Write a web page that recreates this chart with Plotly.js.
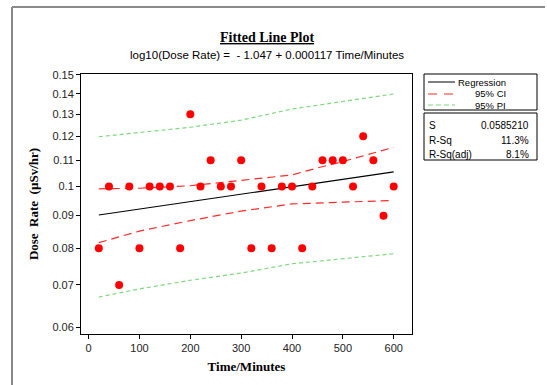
<!DOCTYPE html>
<html>
<head>
<meta charset="utf-8">
<script src="https://cdn.plot.ly/plotly-3.0.1.min.js"></script>
<style>
html,body{margin:0;padding:0;background:#fff;}
#chart{width:547px;height:385px;}
</style>
</head>
<body>
<div id="chart"></div>
<script>
// ---- data ----
const timeMinutes = [20,40,60,80,100,120,140,160,180,200,220,240,260,280,300,320,340,360,380,400,420,440,460,480,500,520,540,560,580,600];
const doseRate    = [0.08,0.10,0.07,0.10,0.08,0.10,0.10,0.10,0.08,0.13,0.10,0.11,0.10,0.10,0.11,0.08,0.10,0.08,0.10,0.10,0.08,0.10,0.11,0.11,0.11,0.10,0.12,0.11,0.09,0.10];

const fitTime    = [20,100,200,300,400,450,500,600];
const regression = [0.0902,0.0922,0.0947,0.0974,0.1001,0.1015,0.1029,0.1055];
const ciUpper    = [0.0992,0.0994,0.1003,0.1022,0.1043,0.1070,0.1095,0.1153];
const ciLower    = [0.0816,0.0851,0.0884,0.0915,0.0939,0.0943,0.0945,0.0951];
const piUpper    = [0.1198,0.1217,0.1240,0.1272,0.1325,0.1343,0.1361,0.1399];
const piLower    = [0.0670,0.0690,0.0712,0.0731,0.0756,0.0763,0.0770,0.0784];

const xTicks  = [0,100,200,300,400,500,600];
const yTicks  = [0.06,0.07,0.08,0.09,0.10,0.11,0.12,0.13,0.14,0.15];
const yLabels = ["0.06","0.07","0.08","0.09","0.1","0.11","0.12","0.13","0.14","0.15"];

const titleText    = "<b><u>Fitted Line Plot</u></b>";
const subtitleText = "log10(Dose Rate) =  - 1.047 + 0.000117 Time/Minutes";
const legendLabels = ["Regression","95% CI","95% PI"];
const statNames  = ["S","R-Sq","R-Sq(adj)"];
const statValues = ["0.0585210","11.3%","8.1%"];

// ---- layout helpers (pixel -> paper) ----
const L = 81, R = 412, T = 74, B = 334, W = 547, H = 385;
const px = x => (x - L) / (R - L);
const py = y => (B - y) / (B - T);

const sans = "Liberation Sans, Arial, sans-serif";
const serif = "Liberation Serif, Times New Roman, serif";

const traces = [
  {x: fitTime, y: piUpper, mode:'lines', line:{color:'#7fd87f', width:1.2, dash:'4px,3px'}, hoverinfo:'skip'},
  {x: fitTime, y: piLower, mode:'lines', line:{color:'#7fd87f', width:1.2, dash:'4px,3px'}, hoverinfo:'skip'},
  {x: fitTime, y: ciUpper, mode:'lines', line:{color:'#ff2a2a', width:1.2, dash:'8px,5px'}, hoverinfo:'skip'},
  {x: fitTime, y: ciLower, mode:'lines', line:{color:'#ff2a2a', width:1.2, dash:'8px,5px'}, hoverinfo:'skip'},
  {x: fitTime, y: regression, mode:'lines', line:{color:'#000', width:1.2}, hoverinfo:'skip'},
  {x: timeMinutes, y: doseRate, mode:'markers', marker:{color:'#ff0000', size:8}}
];

const annotations = [
  {text: titleText, xref:'paper', yref:'paper', x: px(267), y: py(37), xanchor:'center', yanchor:'middle', showarrow:false, font:{family:serif, size:14, color:'#000'}},
  {text: subtitleText, xref:'paper', yref:'paper', x: px(267), y: py(54.5), xanchor:'center', yanchor:'middle', showarrow:false, font:{family:sans, size:11.5, color:'#000'}},
];
// legend texts
const legY = [82, 94, 105];
legendLabels.forEach((t,i) => annotations.push({text:t, xref:'paper', yref:'paper', x:px(508), y:py(legY[i]), xanchor:'right', yanchor:'middle', showarrow:false, font:{family:sans, size:9.5, color:'#000'}}));
// stats texts
const statY = [126, 140, 154];
statNames.forEach((t,i) => {
  annotations.push({text:t, xref:'paper', yref:'paper', x:px(427), y:py(statY[i]), xanchor:'left', yanchor:'middle', showarrow:false, font:{family:sans, size:10, color:'#000'}});
  annotations.push({text:statValues[i], xref:'paper', yref:'paper', x:px(531), y:py(statY[i]), xanchor:'right', yanchor:'middle', showarrow:false, font:{family:sans, size:10, color:'#000'}});
});

const shapes = [
  // outer frame (top and left)
  {type:'line', xref:'paper', yref:'paper', x0:px(12), x1:px(545), y0:py(7), y1:py(7), line:{color:'#8a8a8a', width:2}},
  {type:'line', xref:'paper', yref:'paper', x0:px(12), x1:px(12), y0:py(7), y1:py(386), line:{color:'#8a8a8a', width:2}},
  // legend box
  {type:'rect', xref:'paper', yref:'paper', x0:px(424), x1:px(537), y0:py(74), y1:py(110), line:{color:'#000', width:1}},
  // stats box
  {type:'rect', xref:'paper', yref:'paper', x0:px(424), x1:px(537), y0:py(113), y1:py(160), line:{color:'#000', width:1}},
  // legend samples
  {type:'line', xref:'paper', yref:'paper', x0:px(428), x1:px(455), y0:py(82), y1:py(82), line:{color:'#000', width:1}},
  {type:'line', xref:'paper', yref:'paper', x0:px(428), x1:px(455), y0:py(94), y1:py(94), line:{color:'#ff2a2a', width:1.2, dash:'9px,7px'}},
  {type:'line', xref:'paper', yref:'paper', x0:px(428), x1:px(455), y0:py(105), y1:py(105), line:{color:'#7fd87f', width:1.2, dash:'5px,3px'}}
];

const layout = {
  width: W, height: H,
  margin: {l: L, r: W - R, t: T, b: H - B, pad: 0},
  paper_bgcolor: '#fff', plot_bgcolor: '#fff',
  showlegend: false,
  xaxis: {
    range: [-15, 636], tickvals: xTicks, ticks: 'outside', ticklen: 4, tickcolor: '#000',
    showline: true, linecolor: '#000', linewidth: 1, mirror: true, showgrid: false, zeroline: false,
    tickfont: {family: sans, size: 11, color: '#222'},
    title: {text: '<b>Time/Minutes</b>', font: {family: serif, size: 13, color: '#000'}, standoff: 8}
  },
  yaxis: {
    type: 'log', range: [Math.log10(0.0586), Math.log10(0.1504)],
    tickvals: yTicks, ticktext: yLabels, ticks: 'outside', ticklen: 4, tickcolor: '#000',
    showline: true, linecolor: '#000', linewidth: 1, mirror: true, showgrid: false, zeroline: false,
    tickfont: {family: sans, size: 11, color: '#222'},
    title: {text: '<b>Dose  Rate  (µSv/hr)</b>', font: {family: serif, size: 13, color: '#000'}, standoff: 10}
  },
  annotations: annotations,
  shapes: shapes
};

Plotly.newPlot('chart', traces, layout, {staticPlot: true, displayModeBar: false});
</script>
</body>
</html>
